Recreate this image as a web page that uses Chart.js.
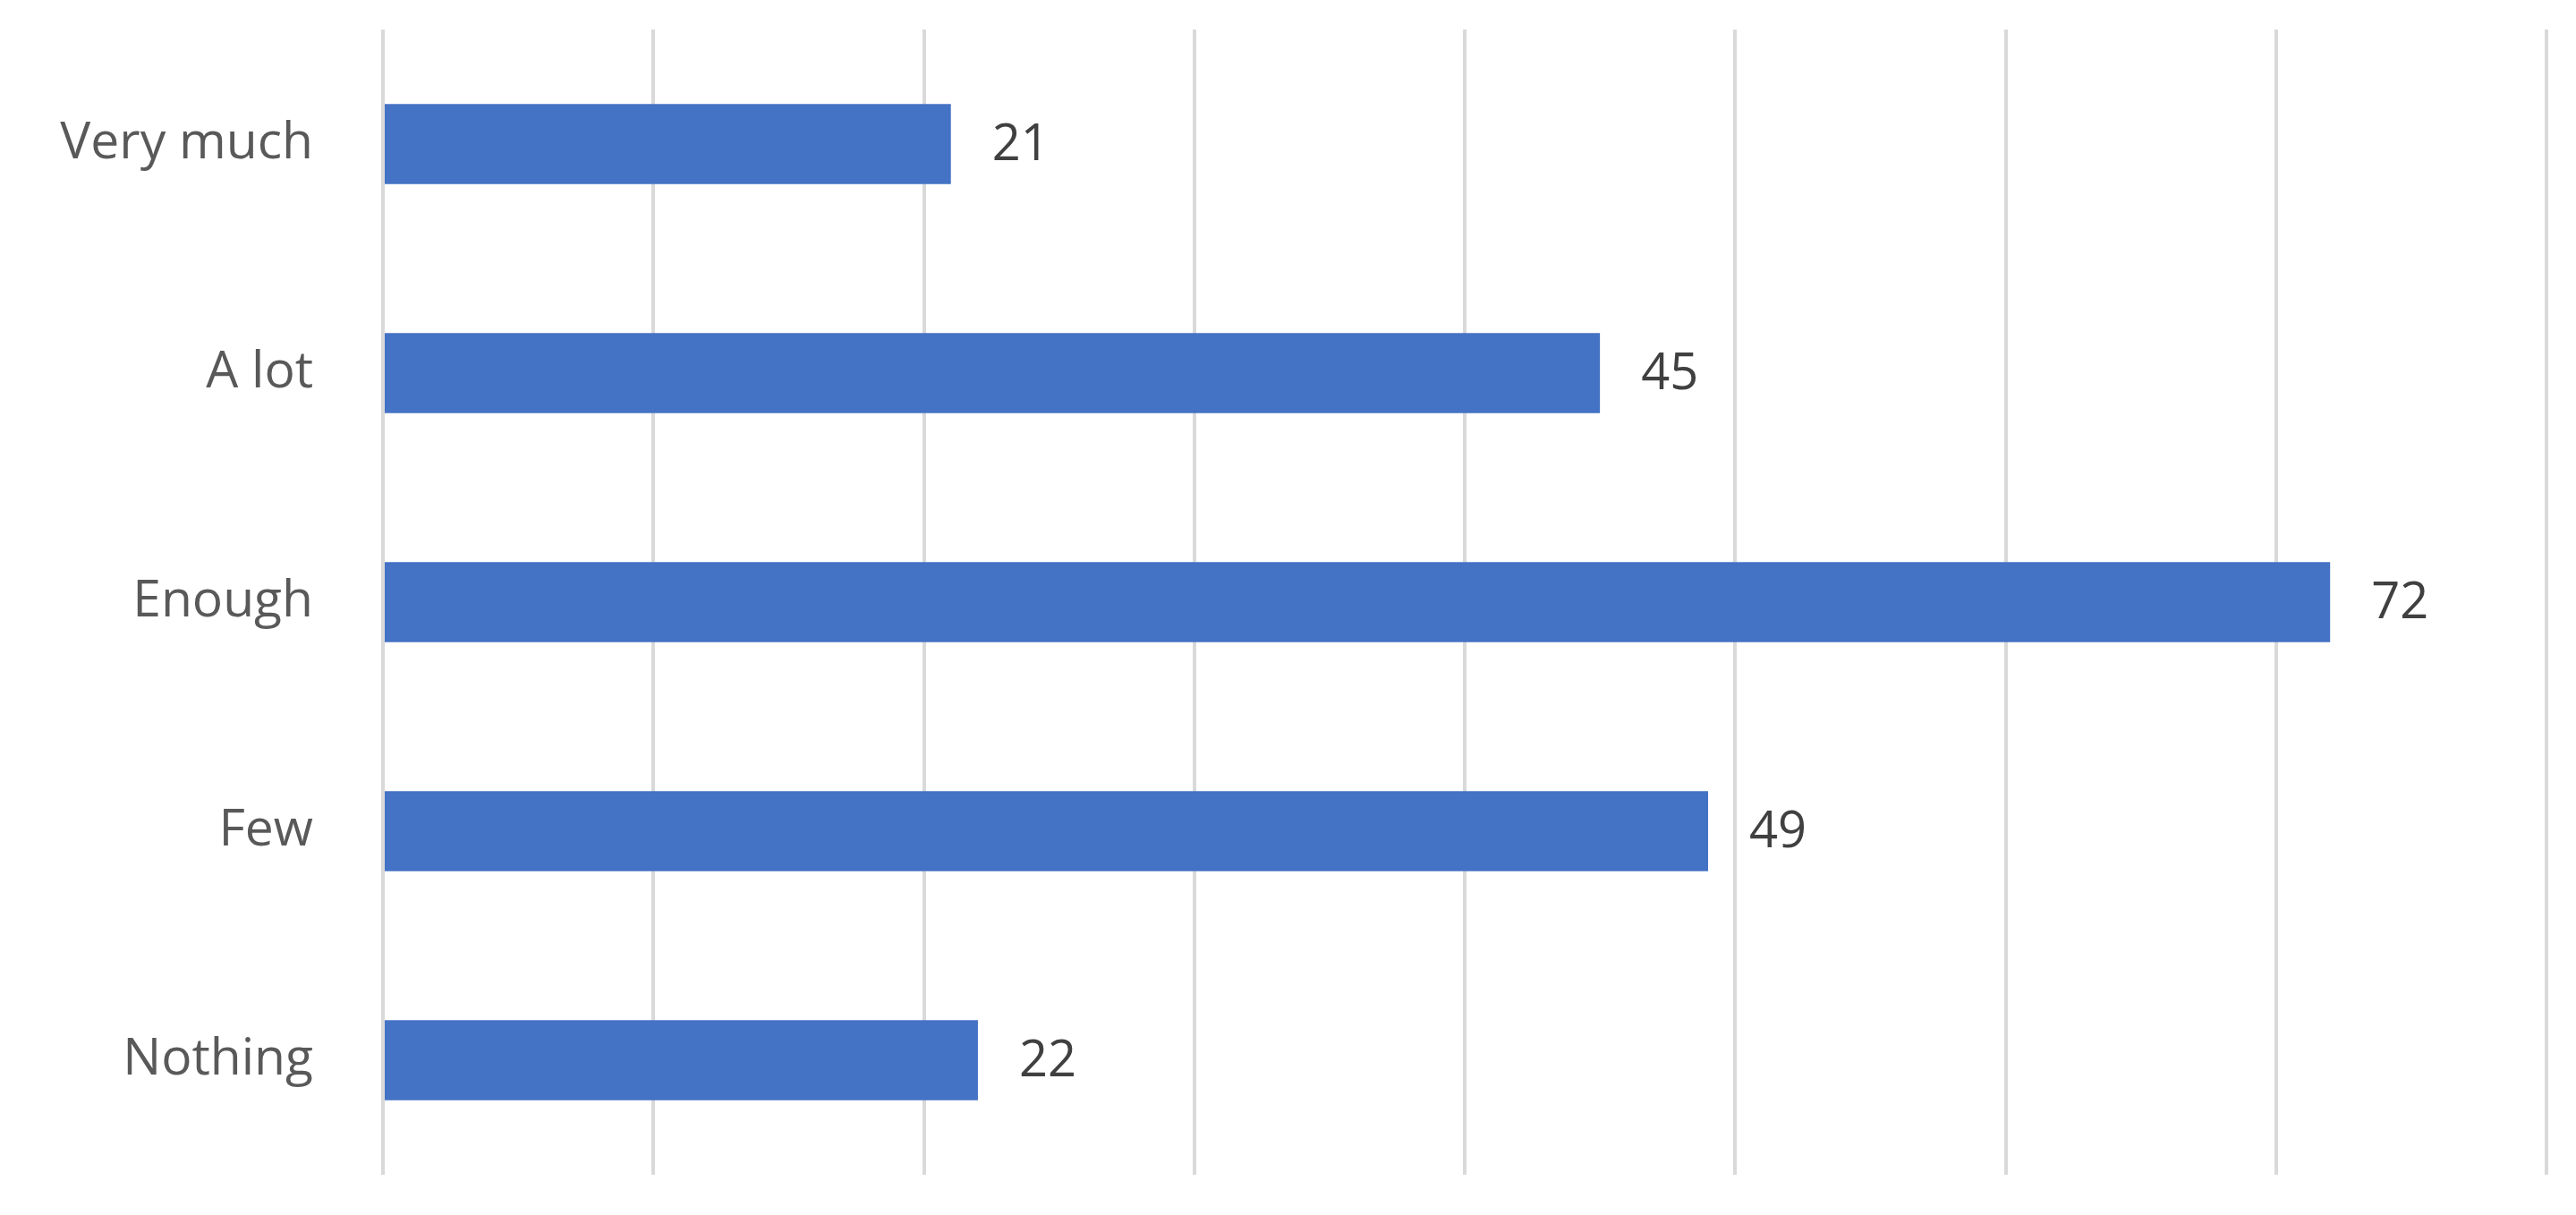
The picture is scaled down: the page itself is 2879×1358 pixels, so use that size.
<!DOCTYPE html>
<html><head><meta charset="utf-8">
<script src="https://cdn.jsdelivr.net/npm/chart.js@4"></script>
<style>html,body{margin:0;padding:0;background:#fff}#w{width:2879px;height:1358px}</style>
</head><body><div id="w"><canvas id="c"></canvas></div>
<script>
const categories = ["Very much", "A lot", "Enough", "Few", "Nothing"];
const values = [21, 45, 72, 49, 22];
const xMin = 0, xMax = 80, xStep = 10;

const labelPlugin = {
  id: 'vals',
  afterDatasetsDraw(chart) {
    const ctx = chart.ctx;
    const meta = chart.getDatasetMeta(0);
    ctx.save();
    ctx.font = '56px "Open Sans", "Liberation Sans", sans-serif';
    ctx.fillStyle = '#404040';
    ctx.textBaseline = 'middle';
    ctx.textAlign = 'left';
    meta.data.forEach((bar, i) => ctx.fillText(String(values[i]), bar.x + 46, bar.y + 2));
    ctx.restore();
  }
};

new Chart(document.getElementById('c'), {
  type: 'bar',
  data: { labels: categories, datasets: [{ data: values, backgroundColor: '#4472C4', categoryPercentage: 1, barPercentage: 0.35 }] },
  options: {
    indexAxis: 'y', responsive: true, maintainAspectRatio: false, animation: false,
    layout: { padding: { top: 33, bottom: 45, right: 33, left: 0 } },
    plugins: { legend: { display: false }, tooltip: { enabled: false } },
    scales: {
      x: { min: xMin, max: xMax, ticks: { display: false, stepSize: xStep, padding: 0 },
           grid: { color: '#d9d9d9', lineWidth: 4, drawTicks: false }, border: { display: false },
           afterFit(s) { s.height = 0; } },
      y: { grid: { display: false }, border: { display: false },
           ticks: { color: '#595959', padding: 70, font: { size: 57, family: '"Open Sans", "Liberation Sans", sans-serif' } },
           afterFit(s) { s.width = 428; s.paddingTop = 0; s.paddingBottom = 0; } }
    }
  },
  plugins: [labelPlugin]
});
</script></body></html>
